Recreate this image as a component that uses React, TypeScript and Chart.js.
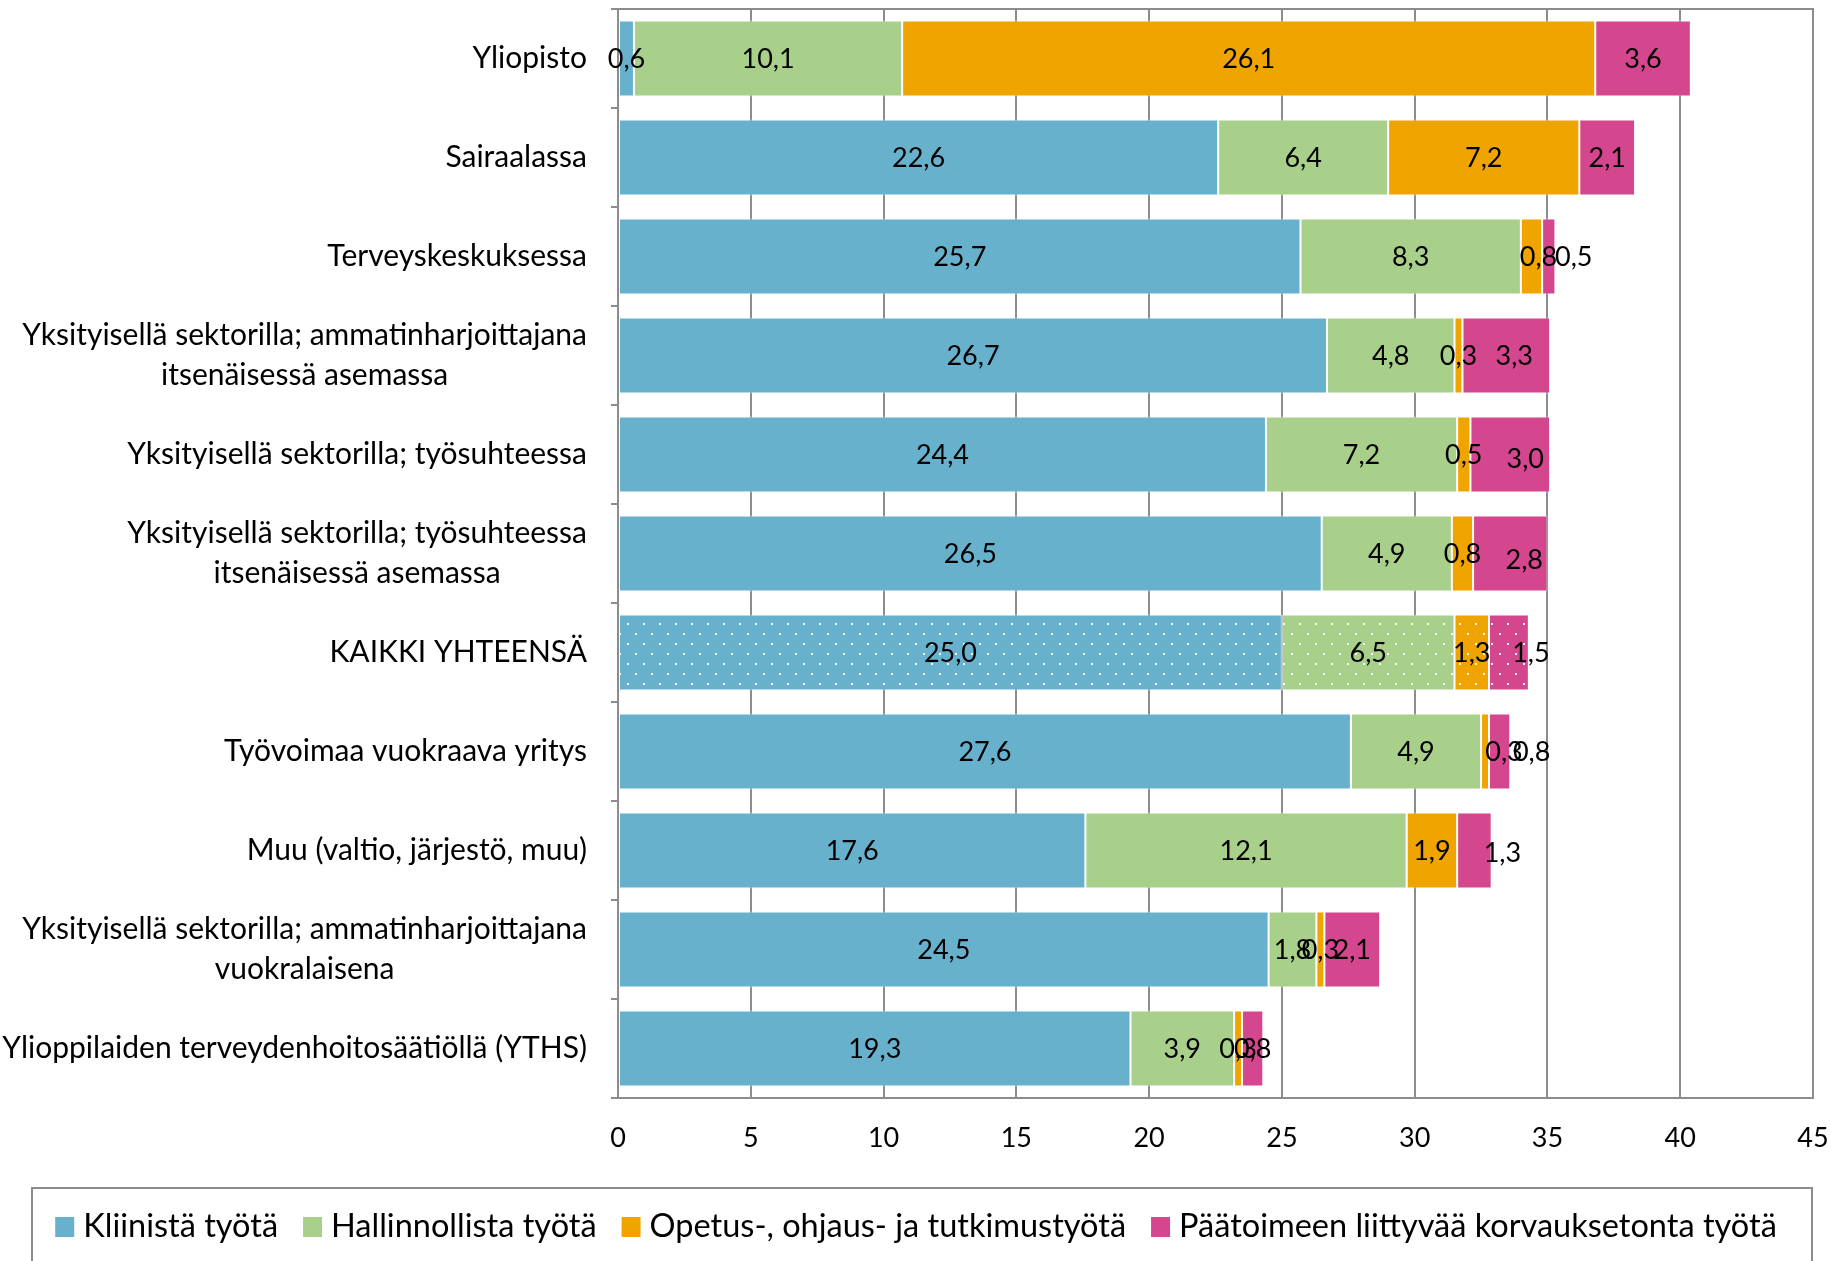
import React, { useEffect, useRef } from 'react';
import { Chart, registerables } from 'chart.js';

Chart.register(...registerables);

const categories: (string | string[])[] = [
  'Yliopisto',
  'Sairaalassa',
  'Terveyskeskuksessa',
  ['Yksityisellä sektorilla; ammatinharjoittajana', 'itsenäisessä asemassa'],
  'Yksityisellä sektorilla; työsuhteessa',
  ['Yksityisellä sektorilla; työsuhteessa', 'itsenäisessä asemassa'],
  'KAIKKI YHTEENSÄ',
  'Työvoimaa vuokraava yritys',
  'Muu (valtio, järjestö, muu)',
  ['Yksityisellä sektorilla; ammatinharjoittajana', 'vuokralaisena'],
  'Ylioppilaiden terveydenhoitosäätiöllä (YTHS)',
];

const seriesNames = [
  'Kliinistä työtä',
  'Hallinnollista työtä',
  'Opetus-, ohjaus- ja tutkimustyötä',
  'Päätoimeen liittyvää korvauksetonta työtä',
];

const kliininen = [0.6, 22.6, 25.7, 26.7, 24.4, 26.5, 25.0, 27.6, 17.6, 24.5, 19.3];
const hallinnollinen = [10.1, 6.4, 8.3, 4.8, 7.2, 4.9, 6.5, 4.9, 12.1, 1.8, 3.9];
const opetus = [26.1, 7.2, 0.8, 0.3, 0.5, 0.8, 1.3, 0.3, 1.9, 0.3, 0.3];
const korvaukseton = [3.6, 2.1, 0.5, 3.3, 3.0, 2.8, 1.5, 0.8, 1.3, 2.1, 0.8];

const xTicks = [0, 5, 10, 15, 20, 25, 30, 35, 40, 45];
const patternedCategory = 'KAIKKI YHTEENSÄ';

const seriesColors = ['#68B1CD', '#A9D08A', '#F0A400', '#D4478F'];
const FONT = 'Lato, "Open Sans", sans-serif';
const GRID = '#8c8c8c';

// manual nudges of a few value labels (pixels), as in the original figure
const labelNudges: Record<string, [number, number]> = {
  '2-2': [7, 0],
  '2-7': [19, 0],
  '3-2': [25, 0],
  '3-3': [8, 0],
  '3-4': [15, 4],
  '3-5': [14, 6],
  '3-6': [22, 0],
  '3-7': [32, 0],
  '3-8': [28, 2],
};

function makePattern(color: string): CanvasPattern | string {
  const c = document.createElement('canvas');
  c.width = 16;
  c.height = 20;
  const g = c.getContext('2d');
  if (!g) return color;
  g.fillStyle = color;
  g.fillRect(0, 0, 16, 20);
  g.fillStyle = 'rgba(255,255,255,0.95)';
  g.fillRect(3, 3, 2, 2);
  g.fillRect(11, 13, 2, 2);
  return g.createPattern(c, 'repeat') || color;
}

const fmt = (v: number) => v.toFixed(1).replace('.', ',');

export default function App() {
  const ref = useRef<HTMLCanvasElement | null>(null);

  useEffect(() => {
    if (!ref.current) return;
    const values = [kliininen, hallinnollinen, opetus, korvaukseton];
    const datasets = values.map((arr, i) => {
      const pat = makePattern(seriesColors[i]);
      return {
        label: seriesNames[i],
        data: arr,
        backgroundColor: categories.map((c) => (c === patternedCategory ? pat : seriesColors[i])),
        borderColor: 'rgba(255,255,255,0.6)',
        borderWidth: 1,
        borderSkipped: false as const,
        barPercentage: 0.77,
        categoryPercentage: 1,
      };
    });

    const labelsPlugin = {
      id: 'customLabels',
      afterDatasetsDraw(chart: any) {
        const ctx = chart.ctx;
        ctx.save();
        ctx.font = `27px ${FONT}`;
        ctx.fillStyle = '#000';
        ctx.textAlign = 'center';
        ctx.textBaseline = 'middle';
        chart.data.datasets.forEach((ds: any, di: number) => {
          const meta = chart.getDatasetMeta(di);
          meta.data.forEach((el: any, idx: number) => {
            const p = el.getProps(['x', 'y', 'base'], true);
            const [dx, dy] = labelNudges[`${di}-${idx}`] || [0, 0];
            ctx.fillText(fmt(ds.data[idx]), (p.x + p.base) / 2 + dx, p.y + 1 + dy);
          });
        });
        ctx.restore();
      },
      afterDraw(chart: any) {
        const ctx = chart.ctx;
        const area = chart.chartArea;
        const yScale = chart.scales.y;
        ctx.save();
        // top border of plot
        ctx.strokeStyle = GRID;
        ctx.lineWidth = 2;
        ctx.beginPath();
        ctx.moveTo(area.left - 7, area.top);
        ctx.lineTo(area.right + 1, area.top);
        ctx.stroke();

        // category labels
        ctx.font = `30px ${FONT}`;
        ctx.fillStyle = '#000';
        ctx.textAlign = 'center';
        ctx.textBaseline = 'middle';
        const rightEdge = area.left - 31;
        const lineH = 40;
        chart.data.labels.forEach((lab: any, i: number) => {
          const lines: string[] = Array.isArray(lab) ? lab : [lab];
          const w = Math.max(...lines.map((l) => ctx.measureText(l).width));
          const cx = rightEdge - w / 2;
          const cy = yScale.getPixelForValue(i);
          const startY = cy - ((lines.length - 1) * lineH) / 2;
          lines.forEach((l, k) => ctx.fillText(l, cx, startY + k * lineH));
        });

        // legend
        const boxTop = 1188;
        ctx.strokeStyle = GRID;
        ctx.lineWidth = 2;
        ctx.strokeRect(32, boxTop, 1780, 200);
        ctx.font = `32.5px ${FONT}`;
        ctx.textAlign = 'left';
        const sq = 19;
        const gapText = 9;
        const gapItem = 25;
        const widths = seriesNames.map((n) => ctx.measureText(n).width);
        const total = widths.reduce((a, b) => a + b, 0) + seriesNames.length * (sq + gapText) + (seriesNames.length - 1) * gapItem;
        let x = 916 - total / 2;
        const ly = 1227;
        seriesNames.forEach((n, i) => {
          ctx.fillStyle = seriesColors[i];
          ctx.fillRect(x, ly - 10, sq, 20);
          ctx.fillStyle = '#000';
          ctx.fillText(n, x + sq + gapText, ly);
          x += sq + gapText + widths[i] + gapItem;
        });
        ctx.restore();
      },
    };

    const chart = new Chart(ref.current, {
      type: 'bar',
      data: { labels: categories as any, datasets: datasets as any },
      options: {
        indexAxis: 'y',
        animation: false,
        responsive: false,
        maintainAspectRatio: false,
        layout: { padding: { top: 9, right: 18, left: 0, bottom: 0 } },
        plugins: { legend: { display: false }, tooltip: { enabled: false } },
        scales: {
          x: {
            stacked: true,
            min: 0,
            max: 45,
            afterBuildTicks: (s: any) => {
              s.ticks = xTicks.map((v) => ({ value: v }));
            },
            ticks: { font: { size: 27, family: FONT }, color: '#000', padding: 24, maxRotation: 0 },
            grid: { color: GRID, lineWidth: 2, drawTicks: false },
            border: { color: GRID, width: 2 },
            afterFit: (s: any) => {
              s.height = 163;
              s.paddingLeft = 0;
              s.paddingRight = 0;
            },
          },
          y: {
            stacked: true,
            ticks: { display: false },
            grid: { drawOnChartArea: false, drawTicks: true, tickLength: 7, color: GRID, lineWidth: 2, offset: true },
            border: { color: GRID, width: 2 },
            afterFit: (s: any) => {
              s.width = 618;
              s.paddingTop = 0;
              s.paddingBottom = 0;
            },
          },
        },
      },
      plugins: [labelsPlugin],
    });
    return () => chart.destroy();
  }, []);

  return (
    <div style={{ position: 'absolute', left: 0, top: 0, width: 1831, height: 1261, background: '#fff' }}>
      <canvas ref={ref} width={1831} height={1261} />
    </div>
  );
}
